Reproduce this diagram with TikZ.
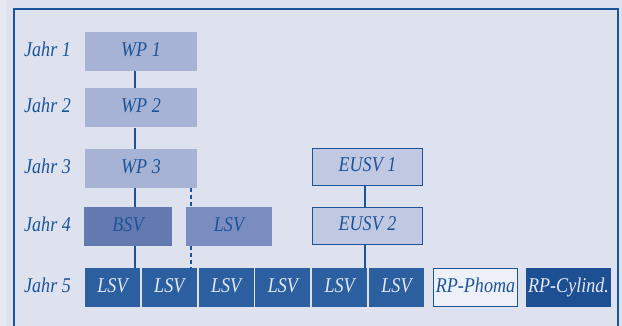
\documentclass[tikz,border=0pt]{standalone}
\usepackage{fontspec}
\setmainfont{Liberation Serif}[FakeStretch=0.86]
\definecolor{bg}{HTML}{DEE2EE}
\definecolor{bgl}{HTML}{E6E9F1}
\definecolor{ink}{HTML}{1C5499}
\definecolor{wpfill}{HTML}{A7B3D4}
\definecolor{bsvfill}{HTML}{6479B0}
\definecolor{lsvfill}{HTML}{7B8DC0}
\definecolor{eusvfill}{HTML}{C0C8E2}
\definecolor{rowfill}{HTML}{2C5F9F}
\definecolor{cylfill}{HTML}{1D4F93}
\definecolor{phomafill}{HTML}{EEF0F8}
\definecolor{lighttext}{HTML}{E4E9F3}
\tikzset{
  boxbase/.style={inner sep=0pt, text height=14pt, text depth=4pt,
    font=\fontsize{21}{23}\selectfont\itshape},
  wpbox/.style={boxbase, fill=wpfill, text=ink, minimum width=112pt, minimum height=39pt},
  bsvbox/.style={boxbase, fill=bsvfill, text=ink, minimum width=88pt, minimum height=39pt},
  lsvbox/.style={boxbase, fill=lsvfill, text=ink, minimum width=86pt, minimum height=39pt},
  eusvbox/.style={boxbase, fill=eusvfill, draw=ink, line width=1.2pt, text=ink, minimum width=110pt, minimum height=37pt},
  rowbox/.style={boxbase, fill=rowfill, text=lighttext, minimum width=55pt, minimum height=39pt},
  phomabox/.style={boxbase, fill=phomafill, draw=ink, line width=1.2pt, text=ink, minimum width=84pt, minimum height=38pt},
  cylbox/.style={boxbase, fill=cylfill, text=lighttext, minimum width=85pt, minimum height=39pt},
  yearlabel/.style={boxbase, anchor=west, text=ink},
  link/.style={draw=ink, line width=1.5pt},
  dlink/.style={draw=ink, line width=1.5pt, dash pattern=on 4pt off 3pt},
}
\begin{document}
\begin{tikzpicture}[x=1pt,y=-1pt]
\useasboundingbox (0,0) rectangle (622,326);
\clip (0,0) rectangle (622,326);
\fill[bg] (0,0) rectangle (622,326);
\fill[bgl] (0,0) rectangle (6,326);
\draw[ink, line width=2pt] (14,340) -- (14,9) -- (618,9) -- (618,340);

% year labels
\node[yearlabel] (j1) at (24,51.5) {Jahr 1};
\node[yearlabel] (j2) at (24,108) {Jahr 2};
\node[yearlabel] (j3) at (24,168.5) {Jahr 3};
\node[yearlabel] (j4) at (24,226.5) {Jahr 4};
\node[yearlabel] (j5) at (24,287.5) {Jahr 5};

% boxes
\node[wpbox] (wp1) at (141,51.5) {WP 1};
\node[wpbox] (wp2) at (141,108) {WP 2};
\node[wpbox] (wp3) at (141,168.5) {WP 3};
\node[bsvbox] (bsv) at (128,226.5) {BSV};
\node[lsvbox] (lsv4) at (229,226.5) {LSV};
\node[eusvbox] (eusv1) at (367.5,167) {EUSV 1};
\node[eusvbox] (eusv2) at (367.5,226) {EUSV 2};

\node[rowbox] (r1) at (112.5,287.5) {LSV};
\node[rowbox] (r2) at (169.3,287.5) {LSV};
\node[rowbox] (r3) at (226.1,287.5) {LSV};
\node[rowbox] (r4) at (282.9,287.5) {LSV};
\node[rowbox] (r5) at (339.7,287.5) {LSV};
\node[rowbox] (r6) at (396.5,287.5) {LSV};
\node[phomabox] (pho) at (475.5,287.5) {RP-Phoma};
\node[cylbox] (cyl) at (568.5,287.5) {RP-Cylind.};

% line x positions
\coordinate (xa) at (135,0);
\coordinate (xb) at (191,0);
\coordinate (xc) at (365,0);

% connectors
\draw[link] (wp1.south -| xa) -- (wp2.north -| xa);
\draw[link] (wp2.south -| xa) -- (wp3.north -| xa);
\draw[link] (wp3.south -| xa) -- (bsv.north -| xa);
\draw[link] (bsv.south -| xa) -- (r1.north -| xa);
\draw[dlink] (wp3.south -| xb) -- (lsv4.north -| xb);
\draw[dlink] (lsv4.south -| xb) -- (r2.north -| xb);
\draw[link] (eusv1.south -| xc) -- (eusv2.north -| xc);
\draw[link] (eusv2.south -| xc) -- (r5.north -| xc);
\end{tikzpicture}
\end{document}
